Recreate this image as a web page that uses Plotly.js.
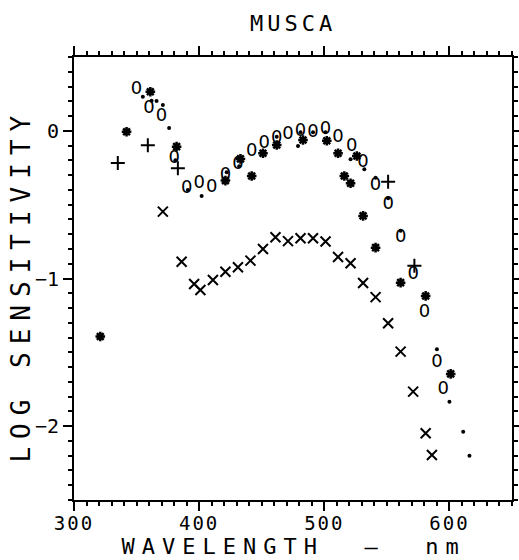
<!DOCTYPE html>
<html>
<head>
<meta charset="utf-8">
<script src="https://cdn.plot.ly/plotly-3.0.1.min.js"></script>
<style>
html,body{margin:0;padding:0;background:#fff;}
#chart{width:519px;height:560px;}
</style>
</head>
<body>
<div id="chart"></div>
<script>
// ---- data ----
const oWl  = [350, 360, 370, 380, 390, 400, 410, 421, 431, 442, 452, 462, 471, 481, 491, 501, 511, 522, 531, 541, 551, 561, 571, 580, 590, 595];
const oVal = [0.28, 0.15, 0.10, -0.19, -0.39, -0.355, -0.385, -0.30, -0.23, -0.14, -0.084, -0.05, -0.028, -0.006, -0.012, 0.006, -0.044, -0.107, -0.215, -0.373, -0.502, -0.721, -0.976, -1.231, -1.57, -1.755];

const dotWl  = [355, 362, 366, 371, 376, 381, 391, 402, 422, 432, 462, 479, 481, 491, 501, 521, 532, 541, 551, 561, 590, 600, 611, 616];
const dotVal = [0.23, 0.204, 0.202, 0.175, 0.019, -0.20, -0.40, -0.441, -0.28, -0.24, -0.04, -0.103, -0.01, -0.01, -0.01, -0.193, -0.26, -0.317, -0.457, -0.676, -1.479, -1.834, -2.037, -2.2];

const starWl  = [321, 342, 361, 382, 421, 433, 442, 451, 462, 483, 502, 511, 516, 521, 526, 531, 541, 561, 581, 601];
const starVal = [-1.393, -0.006, 0.265, -0.107, -0.337, -0.19, -0.306, -0.152, -0.096, -0.062, -0.067, -0.152, -0.306, -0.355, -0.17, -0.576, -0.791, -1.028, -1.118, -1.646];

const plusWl  = [335, 359, 383, 551, 572];
const plusVal = [-0.218, -0.098, -0.254, -0.344, -0.913];

const xWl  = [371, 386, 396, 401, 411, 421, 431, 441, 451, 461, 471, 481, 491, 501, 511, 521, 531, 541, 551, 561, 571, 581, 586];
const xVal = [-0.547, -0.886, -1.037, -1.078, -1.01, -0.954, -0.924, -0.879, -0.80, -0.721, -0.747, -0.728, -0.728, -0.75, -0.854, -0.897, -1.03, -1.126, -1.303, -1.495, -1.766, -2.048, -2.195];

const chartTitle = 'MUSCA';
const xTitle = 'WAVELENGTH  —  nm';
const yTitle = 'LOG SENSITIVITY';

const xRange = [300, 650];
const yRange = [-2.5, 0.5];

const MONO = 'DejaVu Sans Mono, monospace';

const traces = [
  {x: oWl, y: oVal, mode: 'text', text: oWl.map(() => '0'), textposition: 'middle center',
   textfont: {family: 'DejaVu Sans, sans-serif', size: 18, color: 'black'}, hoverinfo: 'skip', cliponaxis: false},
  {x: xWl, y: xVal, mode: 'markers', marker: {symbol: 'x-thin-open', size: 10, color: 'black', line: {width: 2, color: 'black'}}},
  {x: starWl, y: starVal, mode: 'markers', marker: {symbol: 'asterisk-open', size: 8, color: 'black', line: {width: 2.5, color: 'black'}}},
  {x: plusWl, y: plusVal, mode: 'markers', marker: {symbol: 'cross-thin-open', size: 10, color: 'black', line: {width: 2, color: 'black'}}},
  {x: dotWl, y: dotVal, mode: 'markers', marker: {symbol: 'circle', size: 4, color: 'black'}}
];

const axisCommon = {
  showline: true, linewidth: 2, linecolor: 'black', mirror: 'ticks',
  showgrid: false, zeroline: false,
  ticks: 'outside', ticklen: 9, tickwidth: 2, tickcolor: 'black',
  tickfont: {family: MONO, size: 20, color: 'black'}
};

const layout = {
  width: 519, height: 560,
  margin: {l: 74, r: 7, t: 57, b: 60, pad: 0},
  showlegend: false,
  paper_bgcolor: 'white', plot_bgcolor: 'white',
  font: {family: MONO, color: 'black'},
  xaxis: Object.assign({}, axisCommon, {
    range: xRange, tick0: 300, dtick: 100, ticklabelstandoff: -4,
    tickfont: {family: MONO, size: 19, color: 'black'},
    minor: {tick0: 300, dtick: 10, ticks: 'outside', ticklen: 4, tickwidth: 2, tickcolor: 'black', showgrid: false}
  }),
  yaxis: Object.assign({}, axisCommon, {
    range: yRange, tick0: 0, dtick: 1,
    minor: {tick0: 0, dtick: 0.1, ticks: 'outside', ticklen: 4, tickwidth: 2, tickcolor: 'black', showgrid: false}
  }),
  annotations: [
    {text: chartTitle, xref: 'paper', yref: 'paper', x: 0.50, y: 1.075, xanchor: 'center', yanchor: 'middle',
     showarrow: false, font: {family: MONO, size: 22, color: 'black'}},
    {text: xTitle, xref: 'paper', yref: 'paper', x: 0.50, y: -0.1354, xanchor: 'center', yanchor: 'bottom',
     showarrow: false, borderpad: 0, font: {family: MONO, size: 22, color: 'black'}},
    {text: yTitle, xref: 'paper', yref: 'paper', x: -0.12, y: 0.485, xanchor: 'center', yanchor: 'middle',
     textangle: -90, showarrow: false, font: {family: MONO, size: 26, color: 'black'}}
  ]
};

Plotly.newPlot('chart', traces, layout, {staticPlot: true, displayModeBar: false}).then(function () {
  const ann = document.querySelectorAll('.annotation-text');
  const spacing = ['4px', '7px', '8px'];
  ann.forEach(function (el, i) { el.style.letterSpacing = spacing[i] || '0px'; });
  document.querySelectorAll('.xtick text').forEach(function (el) { el.style.letterSpacing = '2px'; });
});
</script>
</body>
</html>
